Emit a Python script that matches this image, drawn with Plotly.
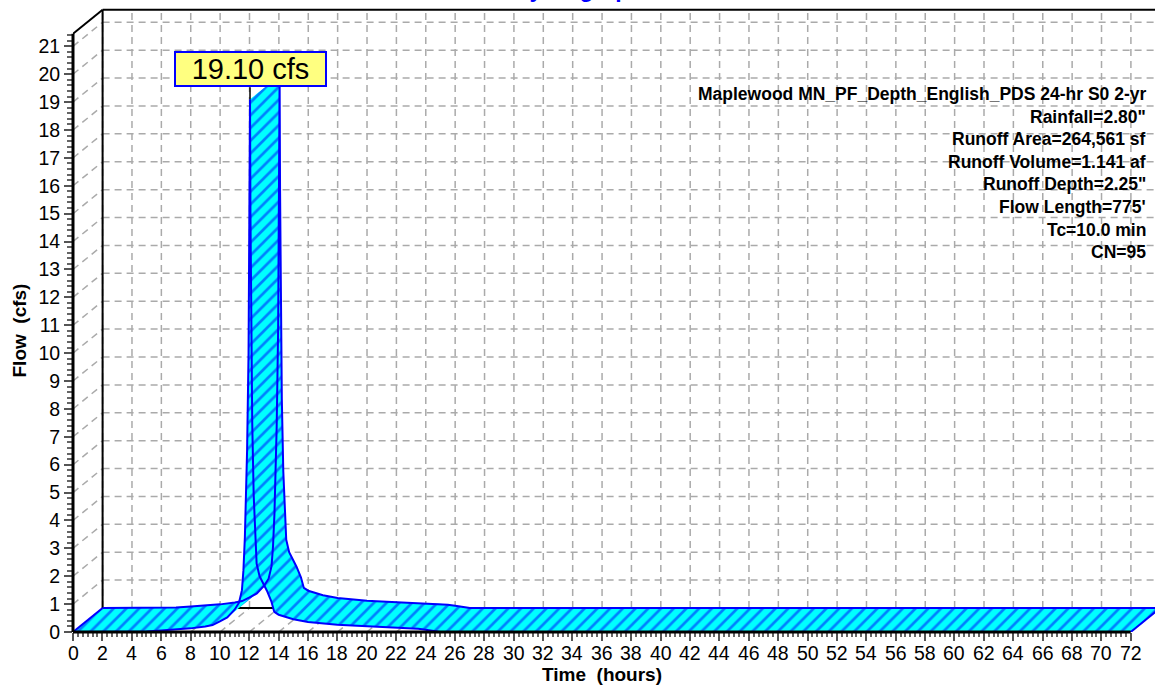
import plotly.graph_objects as go

# ---------------- data ----------------
TIME_HR = [0, 2, 4, 5, 6, 7, 8, 9, 9.5, 10, 10.5, 11, 11.3, 11.5, 11.6, 11.7, 11.8,
           11.85, 11.95, 12.0, 12.05, 12.08, 12.12, 12.2, 12.3, 12.4, 12.5, 12.7,
           13.0, 13.2, 13.5, 13.7, 14.0, 14.5, 15.0, 16.0, 17.0, 18.0, 19.0, 20.0,
           21.0, 22.0, 23.0, 23.5, 24.0, 24.5, 25.0, 72]
FLOW_CFS = [0, 0, 0, 0.02, 0.05, 0.09, 0.13, 0.2, 0.25, 0.38, 0.52, 0.8, 1.05, 1.5,
            2.2, 3.4, 5.0, 6.5, 10.0, 14.0, 19.10, 15.0, 11.0, 7.5, 4.9, 3.4, 2.45,
            2.0, 1.7, 1.48, 1.1, 0.72, 0.62, 0.53, 0.46, 0.36, 0.3, 0.26, 0.23, 0.21,
            0.19, 0.17, 0.15, 0.12, 0.08, 0.03, 0, 0]
X_TICKS = list(range(0, 73, 2))
Y_TICKS = list(range(0, 22))
INFO_LINES = ["Maplewood MN_PF_Depth_English_PDS 24-hr S0 2-yr",
              'Rainfall=2.80"',
              "Runoff Area=264,561 sf",
              "Runoff Volume=1.141 af",
              'Runoff Depth=2.25"',
              "Flow Length=775'",
              "Tc=10.0 min",
              "CN=95"]
TITLE = "Hydrograph"
X_TITLE = "Time\u00a0 (hours)"
Y_TITLE = "Flow\u00a0 (cfs)"

# ---------------- geometry / style ----------------
W, H = 1155, 685
ML, MB = 73, 53
PX_HR = 14.69
PX_CFS = 27.89
DEP_X, DEP_Y = 29.6, 24.0
X_MAX = (W - ML) / PX_HR
Y_MAX = (H - MB) / PX_CFS
DX = DEP_X / PX_HR
DY = DEP_Y / PX_CFS
Y_TOP = 21.45
T_END = 72
FONT = "Liberation Sans, Arial, sans-serif"
TICK_FONT = dict(family=FONT, size=19.5, color="black")
GRID = dict(color="#aaaaaa", width=1.5, dash="7px,5px")


def px_x(p):
    return (p - ML) / (W - ML)


def px_y(p):
    return (H - MB - p) / (H - MB)


fig = go.Figure()

# ribbon surface as union of quads
qx, qy = [], []
for i in range(len(TIME_HR) - 1):
    t0, t1 = TIME_HR[i], TIME_HR[i + 1]
    q0, q1 = FLOW_CFS[i], FLOW_CFS[i + 1]
    pts = [(t0, q0), (t1, q1), (t1 + DX, q1 + DY), (t0 + DX, q0 + DY)]
    cross = (t1 - t0) * PX_HR * DEP_Y - (q1 - q0) * PX_CFS * DEP_X
    if cross < 0:
        pts = pts[::-1]
    qx += [p[0] for p in pts] + [pts[0][0], None]
    qy += [p[1] for p in pts] + [pts[0][1], None]

fig.add_trace(go.Scatter(
    x=qx, y=qy, mode="lines", fill="toself", fillcolor="#00ffff",
    fillpattern=dict(shape="/", fgcolor="#0000ff", bgcolor="#00ffff",
                     size=9, solidity=0.3),
    line=dict(width=0, color="#00ffff"), hoverinfo="skip", showlegend=False,
    connectgaps=False))

# ribbon outlines (front curve, back curve, ends)
ox = list(TIME_HR) + [None] + [t + DX for t in TIME_HR] + [None] + \
    [TIME_HR[0], TIME_HR[0] + DX, None, TIME_HR[-1], TIME_HR[-1] + DX]
oy = list(FLOW_CFS) + [None] + [q + DY for q in FLOW_CFS] + [None] + \
    [FLOW_CFS[0], FLOW_CFS[0] + DY, None, FLOW_CFS[-1], FLOW_CFS[-1] + DY]
fig.add_trace(go.Scatter(x=ox, y=oy, mode="lines",
                         line=dict(color="#0000ff", width=2),
                         hoverinfo="skip", showlegend=False, connectgaps=False))

shapes = []
# back wall grid
for t in X_TICKS:
    shapes.append(dict(type="line", xref="x", yref="y", x0=t + DX, x1=t + DX,
                       y0=DY, y1=Y_TOP + DY, line=GRID, layer="below"))
    if t > 0:
        shapes.append(dict(type="line", xref="x", yref="y", x0=t, x1=t + DX,
                           y0=0, y1=DY, line=GRID, layer="below"))
for v in Y_TICKS[1:]:
    shapes.append(dict(type="line", xref="x", yref="y", x0=DX, x1=X_MAX + 5,
                       y0=v + DY, y1=v + DY, line=GRID, layer="below"))
    shapes.append(dict(type="line", xref="x", yref="y", x0=0, x1=DX,
                       y0=v, y1=v + DY, line=GRID, layer="below"))

BLK = dict(color="black", width=2)
# back frame
shapes += [
    dict(type="line", xref="x", yref="y", x0=DX, x1=DX, y0=DY, y1=Y_TOP + DY,
         line=BLK, layer="below"),
    dict(type="line", xref="x", yref="y", x0=DX, x1=X_MAX + 5, y0=DY, y1=DY,
         line=BLK, layer="below"),
    dict(type="line", xref="x", yref="y", x0=DX, x1=X_MAX + 5,
         y0=Y_TOP + DY, y1=Y_TOP + DY, line=BLK, layer="below"),
    dict(type="line", xref="x", yref="y", x0=0, x1=DX, y0=Y_TOP,
         y1=Y_TOP + DY, line=BLK, layer="below"),
]
# front axes
shapes += [
    dict(type="line", xref="paper", yref="y", x0=0, x1=0, y0=0, y1=Y_TOP,
         line=dict(color="black", width=3), layer="above"),
    dict(type="line", xref="x", yref="paper", x0=0, x1=T_END, y0=0, y1=0,
         line=dict(color="black", width=3), layer="above"),
]
# peak leader
i_pk = FLOW_CFS.index(max(FLOW_CFS))
T_PEAK, Q_PEAK = TIME_HR[i_pk], FLOW_CFS[i_pk]
shapes.append(dict(type="line", xref="x", yref="y", x0=T_PEAK, x1=T_PEAK,
                   y0=Q_PEAK, y1=Q_PEAK + 12 / PX_CFS,
                   line=dict(color="black", width=1.5), layer="above"))

annotations = []
annotations.append(dict(
    x=T_PEAK, y=Q_PEAK, xref="x", yref="y", xanchor="center", yanchor="bottom",
    yshift=12, text=f"{Q_PEAK:.2f} cfs", showarrow=False,
    font=dict(family=FONT, size=29, color="black"),
    bgcolor="#ffff80", bordercolor="#0000ff", borderwidth=2, borderpad=0,
    width=149, height=32))
for k, line in enumerate(INFO_LINES):
    annotations.append(dict(
        x=px_x(1148), y=px_y(94 + 22.6 * k), xref="paper", yref="paper",
        xanchor="right", yanchor="middle", text=f"<b>{line}</b>",
        showarrow=False, font=dict(family=FONT, size=17.5, color="black")))
annotations.append(dict(
    x=px_x(577.5), y=1, xref="paper", yref="paper", xanchor="center",
    yanchor="bottom", yshift=-4, text=f"<b>{TITLE}</b>", showarrow=False,
    font=dict(family=FONT, size=23, color="#0000ff")))
annotations.append(dict(
    x=px_x(602), y=px_y(674), xref="paper", yref="paper", xanchor="center",
    yanchor="middle", text=f"<b>{X_TITLE}</b>", showarrow=False,
    font=dict(family=FONT, size=19, color="black")))
annotations.append(dict(
    x=px_x(18.5), y=px_y(331), xref="paper", yref="paper", xanchor="center",
    yanchor="middle", text=f"<b>{Y_TITLE}</b>", showarrow=False, textangle=-90,
    font=dict(family=FONT, size=19, color="black")))
# x tick labels
for t in X_TICKS:
    annotations.append(dict(
        x=t, y=0, xref="x", yref="paper", xanchor="center", yanchor="middle",
        yshift=-21, text=str(t), showarrow=False, font=TICK_FONT))

x_minor = [k / 3 for k in range(0, 3 * T_END + 1) if k % 6 != 0]
y_minor = [round(k * 0.2, 1) for k in range(0, int(Y_TOP / 0.2) + 1) if k % 5 != 0]

fig.update_layout(
    width=W, height=H, margin=dict(l=ML, r=0, t=0, b=MB),
    paper_bgcolor="white", plot_bgcolor="white", showlegend=False,
    shapes=shapes, annotations=annotations,
    xaxis=dict(range=[0, X_MAX], tickmode="array", tickvals=X_TICKS,
               ticks="outside", ticklen=8, tickwidth=2, tickcolor="#555555",
               showticklabels=False,
               showgrid=False, zeroline=False, showline=False,
               minor=dict(tickmode="array", tickvals=x_minor, ticks="outside",
                          ticklen=4, tickwidth=1.5, tickcolor="#666666",
                          showgrid=False),
               fixedrange=True),
    yaxis=dict(range=[0, Y_MAX], tickmode="array", tickvals=Y_TICKS,
               ticks="outside", ticklen=8, tickwidth=2, tickcolor="#555555",
               showgrid=False, zeroline=False, showline=False,
               tickfont=TICK_FONT,
               minor=dict(tickmode="array", tickvals=y_minor, ticks="outside",
                          ticklen=5, tickwidth=1.5, tickcolor="#666666",
                          showgrid=False),
               fixedrange=True),
)

fig.write_html("out.html", config={"displayModeBar": False},
               post_script="document.body.style.margin='0';document.body.style.overflow='hidden';")
